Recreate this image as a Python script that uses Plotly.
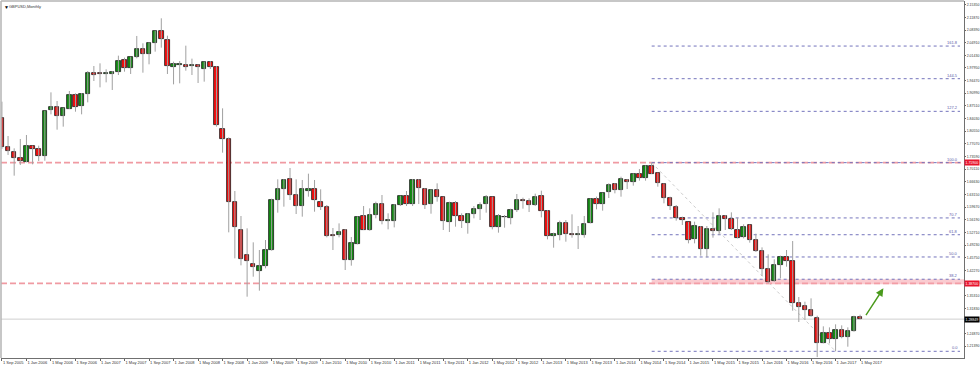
import plotly.graph_objects as go

# ---------------- data (GBPUSD monthly) ----------------
opens = [1.8409,1.7630,1.7474,1.7318,1.7217,1.7648,1.7574,1.7373,1.8638,1.8712,
         1.8482,1.8675,1.9051,1.8758,1.9079,1.9656,1.9656,1.9638,1.9638,1.9693,
         2.0005,1.9803,2.0087,2.0308,2.0179,2.0473,2.0803,2.0564,1.9821,1.9886,
         1.9867,1.9840,1.9876,1.9775,1.9968,1.9830,1.8116,1.7831,1.6107,1.5346,
         1.4649,1.4402,1.4218,1.4356,1.4796,1.6171,1.6474,1.6740,1.6291,1.6006,
         1.6419,1.6465,1.6117,1.5970,1.5200,1.5200,1.5346,1.4512,1.4961,1.5713,
         1.5346,1.5741,1.6043,1.5576,1.5576,1.6025,1.6263,1.6043,1.6713,1.6474,
         1.6043,1.6428,1.6236,1.5566,1.6071,1.5713,1.5530,1.5768,1.5915,1.6043,
         1.6236,1.5410,1.5704,1.5676,1.5887,1.6171,1.6135,1.6016,1.6263,1.5860,
         1.5172,1.5190,1.5530,1.5227,1.5209,1.5209,1.5539,1.6190,1.6052,1.6373,
         1.6603,1.6437,1.6722,1.6667,1.6878,1.6777,1.7107,1.6896,1.6603,1.6227,
         1.5970,1.5658,1.5548,1.5098,1.5410,1.4823,1.5365,1.5310,1.5722,1.5640,
         1.5346,1.5135,1.5465,1.5062,1.4750,1.4264,1.3925,1.4365,1.4594,1.4493,
         1.3329,1.3255,1.3145,1.2925,1.2237,1.2513,1.2348,1.2577,1.2403,1.2549,
         1.2934]
highs = [1.8868,1.7923,1.7584,1.7841,1.7951,1.7657,1.7657,1.8620,1.9124,1.8886,
         1.8703,1.9161,1.9097,1.9106,1.9711,1.9849,1.9922,1.9757,1.9711,2.0133,
         2.0078,2.0106,2.0675,2.0473,2.0500,2.0821,2.1161,2.0683,1.9968,1.9986,
         2.0408,2.0051,1.9895,1.9968,1.9986,1.9849,1.8684,1.7886,1.6410,1.5722,
         1.5383,1.4998,1.4787,1.5062,1.6199,1.6731,1.6740,1.7043,1.6731,1.6713,
         1.6887,1.6713,1.6456,1.6025,1.5392,1.5520,1.5364,1.5144,1.5713,1.5997,
         1.5933,1.6117,1.6300,1.5796,1.6052,1.6282,1.6410,1.6740,1.6740,1.6493,
         1.6456,1.6621,1.6254,1.6117,1.6135,1.5796,1.5796,1.5997,1.6098,1.6300,
         1.6254,1.5777,1.5750,1.5924,1.6327,1.6227,1.6208,1.6337,1.6419,1.5887,
         1.5264,1.5594,1.5612,1.5768,1.5447,1.5722,1.6208,1.6254,1.6364,1.6621,
         1.6630,1.6804,1.6740,1.6896,1.7015,1.7116,1.7190,1.6914,1.6621,1.6254,
         1.6025,1.5704,1.5557,1.5566,1.5447,1.5447,1.5823,1.5933,1.5750,1.5823,
         1.5676,1.5493,1.5484,1.5236,1.4860,1.4668,1.4530,1.4631,1.4787,1.5034,
         1.3494,1.3365,1.3457,1.2980,1.2687,1.2659,1.2742,1.2714,1.2659,1.2980,
         1.3008]
lows = [1.7566,1.7401,1.6832,1.7126,1.7199,1.7144,1.7235,1.7244,1.8519,1.8097,
        1.8180,1.8666,1.8592,1.8519,1.8849,1.9436,1.9262,1.9399,1.9189,1.9601,
        1.9693,1.9629,2.0060,1.9665,1.9895,2.0243,2.0353,1.9629,1.9344,1.9372,
        1.9720,1.9601,1.9381,1.9418,1.9766,1.8180,1.7464,1.5273,1.4558,1.4365,
        1.3503,1.4053,1.3668,1.4283,1.4769,1.5814,1.5979,1.6162,1.5777,1.5704,
        1.6254,1.5841,1.5887,1.5135,1.4787,1.5135,1.4237,1.4356,1.4943,1.5337,
        1.5319,1.5658,1.5493,1.5355,1.5410,1.5997,1.5997,1.5997,1.6052,1.5915,
        1.5786,1.6117,1.5337,1.5282,1.5429,1.5392,1.5236,1.5658,1.5612,1.5814,
        1.5355,1.5264,1.5401,1.5493,1.5832,1.5924,1.5832,1.5997,1.5685,1.5080,
        1.4851,1.5053,1.5016,1.5126,1.4814,1.5126,1.5520,1.5906,1.5869,1.6217,
        1.6346,1.6254,1.6465,1.6557,1.6694,1.6694,1.6878,1.6529,1.6071,1.5887,
        1.5594,1.5475,1.4970,1.4970,1.4631,1.4585,1.5126,1.5200,1.5337,1.5337,
        1.5108,1.5108,1.4989,1.4732,1.4072,1.3879,1.3916,1.4007,1.4328,1.3118,
        1.2806,1.2861,1.2953,1.1841,1.2219,1.2219,1.2000,1.2357,1.2127,1.2540,
        1.2879]
closes = [1.7630,1.7510,1.7327,1.7235,1.7648,1.7556,1.7382,1.8611,1.8721,1.8482,
          1.8693,1.9051,1.8730,1.9088,1.9656,1.9592,1.9638,1.9656,1.9693,1.9995,
          1.9803,2.0087,2.0308,2.0179,2.0482,2.0803,2.0582,1.9858,1.9895,1.9904,
          1.9830,1.9876,1.9830,1.9950,1.9830,1.8226,1.7831,1.6107,1.5420,1.4548,
          1.4493,1.4328,1.4356,1.4796,1.6162,1.6474,1.6713,1.6291,1.6006,1.6456,
          1.6465,1.6153,1.5979,1.5181,1.5172,1.5282,1.4512,1.4970,1.5695,1.5346,
          1.5741,1.6043,1.5576,1.5612,1.6025,1.6263,1.6043,1.6713,1.6483,1.6025,
          1.6428,1.6245,1.5594,1.6071,1.5713,1.5576,1.5768,1.5915,1.6025,1.6236,
          1.5410,1.5722,1.5685,1.5887,1.6171,1.6144,1.6016,1.6245,1.5869,1.5163,
          1.5218,1.5530,1.5218,1.5209,1.5227,1.5502,1.6190,1.6043,1.6364,1.6575,
          1.6437,1.6740,1.6667,1.6878,1.6758,1.7107,1.6887,1.6621,1.6227,1.5997,
          1.5667,1.5603,1.5053,1.5438,1.4823,1.5355,1.5300,1.5722,1.5640,1.5355,
          1.5126,1.5429,1.5062,1.4750,1.4264,1.3916,1.4365,1.4603,1.4493,1.3320,
          1.3228,1.3136,1.2980,1.2237,1.2504,1.2348,1.2586,1.2403,1.2549,1.2953,
          1.2885]

x_tick_labels = ["1 Sep 2005","1 Jan 2006","1 May 2006","1 Sep 2006","1 Jan 2007","1 May 2007",
                 "1 Sep 2007","1 Jan 2008","1 May 2008","1 Sep 2008","1 Jan 2009","1 May 2009",
                 "1 Sep 2009","1 Jan 2010","1 May 2010","1 Sep 2010","1 Jan 2011","1 May 2011",
                 "1 Sep 2011","1 Jan 2012","1 May 2012","1 Sep 2012","1 Jan 2013","1 May 2013",
                 "1 Sep 2013","1 Jan 2014","1 May 2014","1 Sep 2014","1 Jan 2015","1 May 2015",
                 "1 Sep 2015","1 Jan 2016","1 May 2016","1 Sep 2016","1 Jan 2017","1 May 2017"]
x_tick_step = 4

y_tick_values = [2.15350,2.11870,2.08390,2.04910,2.01430,1.97950,1.94470,1.90990,1.87510,
                 1.84030,1.80550,1.77070,1.73590,1.70110,1.66630,1.63150,1.59670,1.56190,
                 1.52710,1.49230,1.45750,1.42270,1.38790,1.35310,1.31830,1.28350,1.24870,
                 1.21390]

resistance_levels = [1.7190, 1.3870]
support_zone = [1.3843, 1.3981]
current_price = 1.28849
fib_anchor_high = (106, 1.7190)
fib_anchor_low = (136, 1.2000)
fib_ratios = [1.618, 1.445, 1.272, 1.0, 0.707, 0.618, 0.5, 0.382, 0.0]
fib_labels = ["161.8", "144.5", "127.2", "100.0", "70.7", "61.8", "50.0", "38.2", "0.0"]
arrow_tail = (140.8, 1.2952)
arrow_head = (143.8, 1.3733)

# ---------------- figure ----------------
n = len(opens)
idx = list(range(n))
X_MIN, X_MAX = -0.15, 156.95
Y_MIN, Y_MAX = 1.1816, 2.1637
FIB_END = 156.3

wx, wy = [], []
for i in idx:
    wx += [i, i, None]
    wy += [lows[i], highs[i], None]

GREEN = "#128a12"
RED = "#f20d0d"
body_base = [min(o, c) for o, c in zip(opens, closes)]
body_h = [abs(c - o) for o, c in zip(opens, closes)]
body_col = [GREEN if c >= o else RED for o, c in zip(opens, closes)]

fig = go.Figure()
fig.add_trace(go.Scatter(x=wx, y=wy, mode="lines",
                         line=dict(color="#a0a0a0", width=1), hoverinfo="skip"))
fig.add_trace(go.Bar(x=idx, y=body_h, base=body_base, width=0.72,
                     marker=dict(color=body_col, line=dict(color="#1c1c1c", width=0.8)),
                     hoverinfo="skip"))

shapes = []
shapes.append(dict(type="rect", xref="x", yref="y", x0=fib_anchor_high[0], x1=X_MAX,
                   y0=support_zone[0], y1=support_zone[1],
                   fillcolor="rgba(245,160,170,0.55)", line=dict(width=0), layer="below"))
shapes.append(dict(type="line", xref="paper", yref="y", x0=0, x1=1,
                   y0=current_price, y1=current_price,
                   line=dict(color="#cfcfcf", width=1), layer="below"))
fh, fl = fib_anchor_high[1], fib_anchor_low[1]
for r in fib_ratios:
    lv = fl + (fh - fl) * r
    shapes.append(dict(type="line", xref="x", yref="y", x0=fib_anchor_high[0], x1=FIB_END,
                       y0=lv, y1=lv, line=dict(color="#7474bc", width=1, dash="dot"),
                       layer="below"))
shapes.append(dict(type="line", xref="x", yref="y", x0=fib_anchor_high[0], x1=fib_anchor_low[0],
                   y0=fh, y1=fl, line=dict(color="#cccccc", width=1, dash="dot"), layer="below"))
for lv in resistance_levels:
    shapes.append(dict(type="line", xref="paper", yref="y", x0=0, x1=1, y0=lv, y1=lv,
                       line=dict(color="#f09aa2", width=1.6, dash="6px,3px"), layer="below"))
shapes.append(dict(type="line", xref="paper", yref="paper", x0=0, x1=1, y0=1, y1=1,
                   line=dict(color="#b5b5b5", width=1.5)))
shapes.append(dict(type="line", xref="paper", yref="paper", x0=0, x1=0, y0=0, y1=1,
                   line=dict(color="#b5b5b5", width=1.5)))

annotations = []
for r, t in zip(fib_ratios, fib_labels):
    lv = fl + (fh - fl) * r
    annotations.append(dict(x=FIB_END, y=lv, xref="x", yref="y", text=t, showarrow=False,
                            xanchor="right", yanchor="bottom", yshift=-1,
                            font=dict(size=4, color="#5a5aa8", family="Arial")))
for lv, col in [(resistance_levels[0], "#e8142c"), (resistance_levels[1], "#e8142c"),
                (current_price, "#000000")]:
    annotations.append(dict(x=1, y=lv, xref="paper", yref="y", text=f"{lv:.5f}",
                            showarrow=False, xanchor="left", yanchor="middle", xshift=0,
                            bgcolor=col, borderpad=0.5,
                            font=dict(size=3.5, color="#ffffff", family="Arial")))
annotations.append(dict(x=0, y=1, xref="paper", yref="paper", text="▼", showarrow=False,
                        xanchor="left", yanchor="top", xshift=1, yshift=-1,
                        font=dict(size=5, color="#000000", family="Arial")))
annotations.append(dict(x=0, y=1, xref="paper", yref="paper", text="GBPUSD,Monthly",
                        showarrow=False, xanchor="left", yanchor="top", xshift=6, yshift=-1,
                        font=dict(size=4, color="#333333", family="Arial")))
annotations.append(dict(x=arrow_head[0], y=arrow_head[1], ax=arrow_tail[0], ay=arrow_tail[1],
                        xref="x", yref="y", axref="x", ayref="y", text="", showarrow=True,
                        arrowhead=2, arrowsize=1.1, arrowwidth=1.4, arrowcolor="#4a9a1c"))

fig.update_layout(
    template="none",
    width=980, height=368,
    margin=dict(l=1, r=16, t=1, b=10, pad=0),
    paper_bgcolor="white", plot_bgcolor="white",
    showlegend=False, barmode="overlay", bargap=0,
    shapes=shapes, annotations=annotations,
    xaxis=dict(range=[X_MIN, X_MAX], tickvals=list(range(0, n, x_tick_step)),
               ticktext=x_tick_labels, tickfont=dict(size=4, color="#333333", family="Arial"),
               tickangle=0, ticks="outside", ticklen=2, tickcolor="#666666", tickwidth=1,
               ticklabelposition="outside right",
               showgrid=False, zeroline=False, showline=True, linecolor="#707070", linewidth=1,
               automargin=False, fixedrange=True),
    yaxis=dict(range=[Y_MIN, Y_MAX], side="right", tickvals=y_tick_values,
               ticktext=[f"{v:.5f}" for v in y_tick_values],
               tickfont=dict(size=3.5, color="#333333", family="Arial"),
               ticks="outside", ticklen=1, tickcolor="#666666", tickwidth=1,
               showgrid=False, zeroline=False, showline=True, linecolor="#707070", linewidth=1,
               automargin=False, fixedrange=True),
)

fig.write_html("out.html", config={"displayModeBar": False},
               post_script="document.body.style.margin='0px';document.body.style.overflow='hidden';")
